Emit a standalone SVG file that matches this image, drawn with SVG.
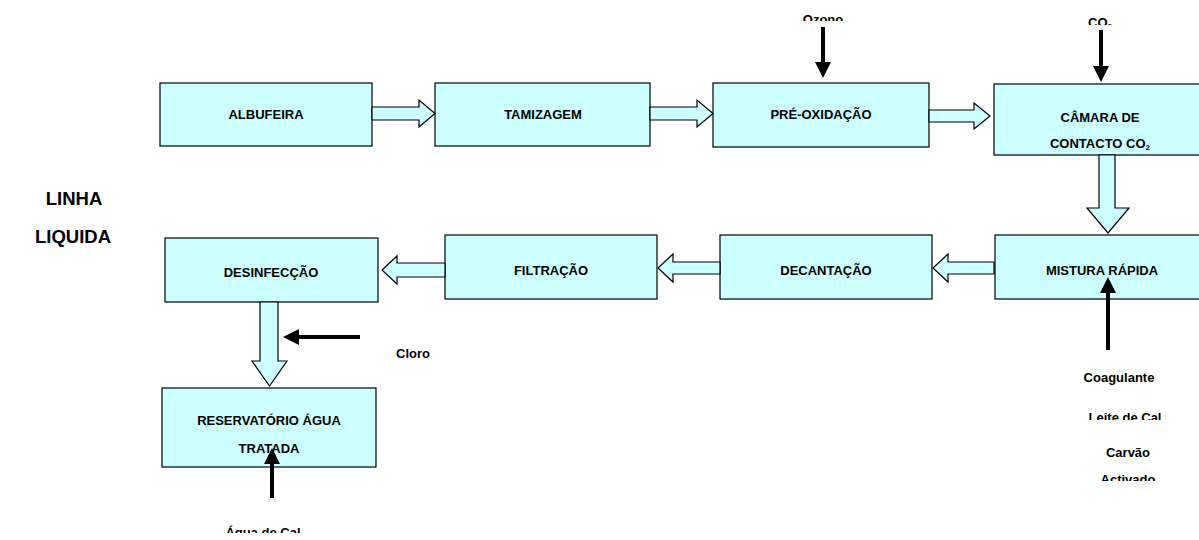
<svg xmlns="http://www.w3.org/2000/svg" width="1199" height="540" viewBox="0 0 1199 540">
<style>
.box{fill:#CCFFFF;stroke:#000;stroke-width:1.2}
.blk{fill:#CCFFFF;stroke:#000;stroke-width:1.2;stroke-linejoin:miter}
.t{font-family:"Liberation Sans",Arial,sans-serif;font-weight:bold;font-size:13px;fill:#000;text-anchor:middle}
.big{font-size:18.5px}
.ln{stroke:#000;stroke-width:4;fill:none}
</style>
<defs>
<marker id="ah" viewBox="0 0 10 10" refX="0" refY="5" markerWidth="16" markerHeight="16" markerUnits="userSpaceOnUse" orient="auto">
<path d="M0,0 L10,5 L0,10 z" fill="#000"/>
</marker>
<clipPath id="cOz"><rect x="780" y="0" width="90" height="21"/></clipPath>
<clipPath id="cCo"><rect x="1060" y="0" width="90" height="25"/></clipPath>
<clipPath id="cLc"><rect x="1060" y="400" width="139" height="20"/></clipPath>
<clipPath id="cAc"><rect x="1060" y="465" width="139" height="16"/></clipPath>
<clipPath id="cAg"><rect x="200" y="515" width="150" height="18"/></clipPath>
</defs>

<g id="albufeira"><rect class="box" x="160" y="83" width="212" height="63"/><text class="t" x="266" y="119">ALBUFEIRA</text></g>
<g id="tamizagem"><rect class="box" x="435" y="83" width="215" height="63"/><text class="t" x="543" y="119">TAMIZAGEM</text></g>
<g id="pre-oxidacao"><rect class="box" x="713" y="83" width="216" height="64"/><text class="t" x="821" y="119">PRÉ-OXIDAÇÃO</text></g>
<g id="camara"><rect class="box" x="994" y="84" width="215" height="71"/><text class="t" x="1100" y="122">CÂMARA DE</text><text class="t" x="1100" y="148">CONTACTO CO<tspan font-size="8" dy="2">2</tspan></text></g>
<g id="mistura"><rect class="box" x="995" y="235" width="214" height="64"/><text class="t" x="1102" y="275">MISTURA RÁPIDA</text></g>
<g id="decantacao"><rect class="box" x="720" y="235" width="212" height="64"/><text class="t" x="826" y="275">DECANTAÇÃO</text></g>
<g id="filtracao"><rect class="box" x="445" y="235" width="212" height="64"/><text class="t" x="551" y="275">FILTRAÇÃO</text></g>
<g id="desinfeccao"><rect class="box" x="165" y="238" width="213" height="64"/><text class="t" x="271" y="277">DESINFECÇÃO</text></g>
<g id="reservatorio"><rect class="box" x="162" y="388" width="214" height="79"/><text class="t" x="269" y="425">RESERVATÓRIO ÁGUA</text><text class="t" x="269" y="453">TRATADA</text></g>

<g id="connectors">
<polygon class="blk" points="372,107 419,107 419,100 435,113.5 419,127 419,120 372,120"/>
<polygon class="blk" points="650,107 697,107 697,100 713,113.5 697,127 697,120 650,120"/>
<polygon class="blk" points="929,110 974,110 974,103 990,116 974,129 974,122 929,122"/>
<polygon class="blk" points="1099,155 1115,155 1115,208 1129,208 1108,233 1087,208 1099,208"/>
<polygon class="blk" points="994,262 948,262 948,254 933,268 948,282 948,274 994,274"/>
<polygon class="blk" points="720,262 673,262 673,254 658,268 673,282 673,274 720,274"/>
<polygon class="blk" points="445,263 397,263 397,256 382,270 397,284 397,277 445,277"/>
<polygon class="blk" points="260,302 278,302 278,361 287,361 269.5,386 252,361 260,361"/>
<line class="ln" x1="823" y1="27" x2="823" y2="62" marker-end="url(#ah)"/>
<line class="ln" x1="1101" y1="30" x2="1101" y2="66" marker-end="url(#ah)"/>
<line class="ln" x1="1108" y1="350" x2="1108" y2="293" marker-end="url(#ah)"/>
<line class="ln" x1="360" y1="337" x2="299" y2="337" marker-end="url(#ah)"/>
<line class="ln" x1="272" y1="498" x2="272" y2="464" marker-end="url(#ah)"/>
</g>

<g id="labels">
<text class="t big" x="74" y="205">LINHA</text>
<text class="t big" x="73" y="243">LIQUIDA</text>
<text class="t" x="823" y="24" clip-path="url(#cOz)">Ozono</text>
<text class="t" x="1100" y="27" clip-path="url(#cCo)">CO<tspan font-size="8" dy="2">2</tspan></text>
<text class="t" x="413" y="358">Cloro</text>
<text class="t" x="1119" y="382">Coagulante</text>
<text class="t" x="1125" y="422" clip-path="url(#cLc)">Leite de Cal</text>
<text class="t" x="1128" y="457">Carvão</text>
<text class="t" x="1128" y="484" clip-path="url(#cAc)">Activado</text>
<text class="t" x="263" y="537" clip-path="url(#cAg)">Água de Cal</text>
</g>
</svg>
